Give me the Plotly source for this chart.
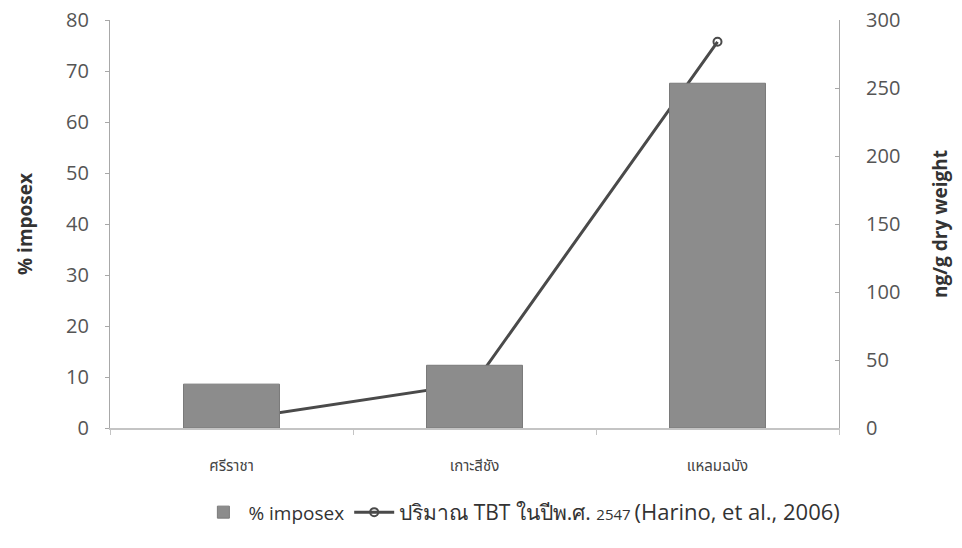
import plotly.graph_objects as go

# Sites along the eastern Gulf of Thailand
sites = ["ศรีราชา", "เกาะสีชัง", "แหลมฉบัง"]
# Percentage of snails showing imposex
imposex_pct = [8.6, 12.3, 67.6]
# TBT concentration in sediment, ng/g dry weight (2004 survey)
tbt_ng_g = [6, 33, 284]

left_ticks = [0, 10, 20, 30, 40, 50, 60, 70, 80]
right_ticks = [0, 50, 100, 150, 200, 250, 300]

font_main = "Open Sans, Noto Sans, sans-serif"
font_thai = "Noto Sans Thai, Noto Sans, DejaVu Sans, sans-serif"

tbt_name = ("<span style='font-size:21px'>ปริมาณ TBT ในปีพ.ศ. </span>"
            "<span style='font-size:15px'>2547 </span>"
            "<span style='font-size:22px'>(Harino, et al., 2006)</span>")

fig = go.Figure()

# bars live on the overlaying axis so they are painted above the line
fig.add_trace(go.Bar(
    x=sites, y=imposex_pct, name="% imposex", yaxis="y2",
    marker=dict(color="#8c8c8c", line=dict(color="#7a7a7a", width=1)),
    width=0.395,
))
fig.add_trace(go.Scatter(
    x=sites, y=tbt_ng_g, name=tbt_name, yaxis="y",
    mode="lines+markers",
    line=dict(color="#4a4a4a", width=3),
    marker=dict(symbol="circle-open", size=8, color="#4a4a4a",
                line=dict(width=2, color="#4a4a4a")),
))

axis_col = "#a8a8a8"
tick_font = dict(family=font_main, size=20, color="#555555")

fig.update_layout(
    width=962, height=548,
    margin=dict(l=110, r=123, t=20, b=120),
    paper_bgcolor="white", plot_bgcolor="white",
    showlegend=True,
    barmode="overlay",
    xaxis=dict(
        showgrid=False, showline=True, linecolor="#c4c4c4", linewidth=1.5,
        ticks="outside", ticklen=5, tickcolor="#c4c4c4",
        tickson="boundaries",
        tickfont=dict(family=font_thai, size=15, color="#444444"),
        ticklabelstandoff=23,
        range=[-0.5, 2.5],
    ),
    yaxis=dict(
        side="right", range=[0, 300], tickvals=right_ticks,
        showgrid=False, zeroline=False,
        showline=True, linecolor=axis_col, linewidth=1.2,
        ticks="inside", ticklen=4, tickcolor=axis_col,
        tickfont=tick_font, ticklabelstandoff=22,
        automargin=False,
        title=dict(text="<b>ng/g dry weight</b>",
                   font=dict(family=font_main, size=19, color="#333333"),
                   standoff=34),
    ),
    yaxis2=dict(
        side="left", overlaying="y", range=[0, 80], tickvals=left_ticks,
        showgrid=False, zeroline=False,
        showline=True, linecolor=axis_col, linewidth=1.2,
        ticks="outside", ticklen=4, tickcolor=axis_col,
        tickfont=tick_font, ticklabelstandoff=12,
        automargin=False,
        title=dict(text="<b>% imposex</b>",
                   font=dict(family=font_main, size=19, color="#333333"),
                   standoff=28),
    ),
    legend=dict(
        orientation="h", x=0.565, xanchor="center", y=-0.16, yanchor="top",
        font=dict(family=font_main, size=19, color="#333333"),
        itemwidth=40,
    ),
)

fig.write_html("out.html")
